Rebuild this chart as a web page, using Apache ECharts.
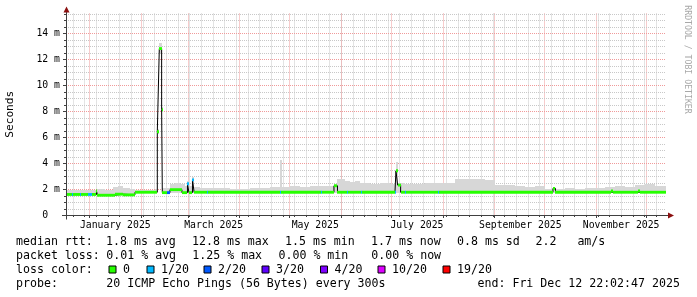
<!DOCTYPE html>
<html><head><meta charset="utf-8">
<script src="https://cdn.jsdelivr.net/npm/echarts@6/dist/echarts.min.js"></script>
<style>html,body{margin:0;padding:0;background:#fff}#c{width:697px;height:297px}</style>
</head><body><div id="c"></div>
<script>
// ---------- DATA (x = days relative to 2025-01-01 00:00, y = milliseconds) ----------
const xStart = -14.08, xEnd = 345.92;          // graph span, ends Fri Dec 12 22:02:47 2025
const monthLabels   = ['January 2025','March 2025','May 2025','July 2025','September 2025','November 2025'];
const monthLabelDays = [15.5, 74.5, 135.5, 196.5, 258.5, 319];
const monthStartDays = [0,31,59,90,120,151,181,212,243,273,304,334];
const yTickValues = [0,2,4,6,8,10,12,14];
const yTickLabels = ['0  ','2 m','4 m','6 m','8 m','10 m','12 m','14 m'];

// median RTT (step segments: value holds from day until next day), loss count per segment
const medDays = [-14.1,-10.5,-10.0,-5.7,-5.1,-0.9,1.5,4.2,4.8,15.3,20.1,27.3,40.7,41.9,43.3,43.7,46.8,48.3,55.5,58.8,59.7,61.8,62.8,70.5,71.1,114.3,114.9,138.9,139.5,146.7,148.8,154.5,155.1,162.9,163.5,183.3,183.9,184.9,186.7,189.3,189.9,209.1,209.7,278.1,279.6,313.2,314.1,329.1,330.3];
const medVals = [1.58,1.58,1.58,1.58,1.58,1.58,1.58,1.85,1.52,1.60,1.55,1.75,6.4,12.8,8.1,1.72,1.72,1.95,1.72,2.4,1.72,2.7,1.75,1.75,1.75,1.75,1.75,1.75,1.75,2.25,1.75,1.75,1.75,1.75,1.75,1.75,3.4,2.3,1.75,1.75,1.75,1.75,1.75,2.05,1.75,1.85,1.75,1.85,1.75];
const medLoss = [0,1,0,1,0,1,0,0,0,0,0,0,0,0,0,0,2,0,0,1,0,1,0,1,0,1,0,1,0,0,0,1,0,1,0,1,0,0,0,1,0,1,0,0,0,0,0,0,0];

// smoke (ping spread) lower / upper bound, step segments
const smokeDays = [-14.1,-8.7,-2.7,0.3,4.5,9.3,14.1,17.1,20.1,24.3,27.3,33.3,39.3,40.7,41.9,43.3,43.7,48.3,51.3,54.3,57.3,58.8,59.7,61.8,62.8,66.3,72.3,78.3,84.3,90.3,96.3,102.3,108.3,114.5,115.3,120.3,126.3,132.3,138.3,144.3,146.7,148.8,153.3,156.3,159.3,162.3,168.3,174.3,180.3,183.9,184.9,189.3,195.3,201.3,207.3,213.3,219.3,225.3,231.3,237.3,243.3,249.3,255.3,261.3,267.3,273.3,279.3,285.3,291.3,297.3,303.3,309.3,315.3,321.3,327.3,333.3,339.3];
const smokeHi = [1.95,1.95,1.92,1.95,2.0,1.95,2.15,2.2,2.05,2.0,1.95,1.95,1.97,6.6,13.2,8.3,2.05,2.35,2.5,2.4,2.2,2.6,2.2,2.9,2.15,2.1,2.1,2.05,2.0,2.0,2.05,2.1,2.15,4.2,2.15,2.2,2.15,2.2,2.2,2.2,2.35,2.75,2.65,2.55,2.6,2.45,2.4,2.45,2.4,4.1,2.5,2.4,2.4,2.45,2.45,2.5,2.75,2.75,2.8,2.7,2.3,2.3,2.2,2.15,2.2,2.0,2.0,2.05,2.0,2.1,2.05,2.15,2.2,2.15,2.3,2.35,2.25];
const smokeLo = [1.55,1.55,1.55,1.55,1.52,1.5,1.55,1.58,1.55,1.55,1.72,1.72,1.72,6.2,12.5,7.9,1.7,1.7,1.7,1.7,1.7,1.7,1.7,1.7,1.7,1.7,1.7,1.7,1.7,1.7,1.7,1.7,1.7,1.7,1.7,1.7,1.7,1.7,1.7,1.7,1.7,1.7,1.7,1.7,1.7,1.7,1.7,1.7,1.7,1.7,1.7,1.7,1.7,1.7,1.7,1.7,1.7,1.7,1.7,1.7,1.7,1.7,1.7,1.7,1.7,1.7,1.7,1.7,1.7,1.7,1.7,1.7,1.7,1.7,1.7,1.7,1.7];

// loss colour legend
const lossLevels = [0,1,2,3,4,10,19];
const lossNames  = ['0','1/20','2/20','3/20','4/20','10/20','19/20'];
const lossColors = ['#26ff00','#00b8ff','#0059ff','#5e00ff','#7e00ff','#dd00ff','#ff0000'];

// legend text
const rowTitles = ['median rtt:','packet loss:','loss color:','probe:'];
const rttItems  = ['1.8 ms avg','12.8 ms max','1.5 ms min','1.7 ms now','0.8 ms sd','2.2   am/s'];
const lossItems = ['0.01 % avg','1.25 % max','0.00 % min','0.00 % now'];
const probeText = '20 ICMP Echo Pings (56 Bytes) every 300s';
const endText   = 'end: Fri Dec 12 22:02:47 2025';
const watermark = 'RRDTOOL / TOBI OETIKER';

// ---------- LAYOUT ----------
const G = {left:66, top:13.5, width:600, height:201.5};
const yMax = 15.5;
const MONO = '"DejaVu Sans Mono", monospace';
const rowY = [241.5, 255.5, 269.5, 283.5];
const rttX = [106, 192, 285, 371, 457, 535.5];
const lossX = [106.3, 192.3, 278.5, 371.3];
const boxX = [108.5, 146.5, 203.5, 261.5, 320, 377.5, 442.5];
const medHalf = 0.11;
const MINOR = '#c8c8c8', MAJOR = '#f09a9a', AXIS = '#404040', ARROW = '#8b1010', SMOKE = '#d7d7d7';

// grid line items: [orientation 0=vertical 1=horizontal, value, major]
const gridItems = [];
for (let d = -10; d < xEnd; d += 7) gridItems.push([0, d, 0]);
monthStartDays.forEach(d => gridItems.push([0, d, 1]));
for (let v = 0.5; v <= yMax + 1e-9; v += 0.5) gridItems.push([1, v, (Math.abs(v % 2) < 1e-9) ? 1 : 0]);

const medSeg = medDays.map((d, i) => [d, i + 1 < medDays.length ? medDays[i + 1] : xEnd, medVals[i], medLoss[i]]);
const medLine = medDays.map((d, i) => [d, medVals[i]]).concat([[xEnd, medVals[medVals.length - 1]]]);
const smokeSeg = smokeDays.map((d, i) => [d, i + 1 < smokeDays.length ? smokeDays[i + 1] : xEnd, smokeLo[i], smokeHi[i]]);

const chart = echarts.init(document.getElementById('c'), null, {renderer: 'canvas', width: 697, height: 297});

const graphics = [];
rowTitles.forEach((t, i) => graphics.push({type: 'text', x: 16, y: rowY[i], style: {text: t, font: '11.6px ' + MONO, fill: '#000', verticalAlign: 'middle'}}));
rttItems.forEach((t, i) => graphics.push({type: 'text', x: rttX[i], y: rowY[0], style: {text: t, font: '11.6px ' + MONO, fill: '#000', verticalAlign: 'middle'}}));
lossItems.forEach((t, i) => graphics.push({type: 'text', x: lossX[i], y: rowY[1], style: {text: t, font: '11.6px ' + MONO, fill: '#000', verticalAlign: 'middle'}}));
lossNames.forEach((t, i) => {
  graphics.push({type: 'rect', shape: {x: boxX[i] + 0.5, y: rowY[2] - 3.5, width: 7, height: 7}, style: {fill: lossColors[i], stroke: '#000', lineWidth: 1}});
  graphics.push({type: 'text', x: boxX[i] + 14.5, y: rowY[2], style: {text: t, font: '11.6px ' + MONO, fill: '#000', verticalAlign: 'middle'}});
});
graphics.push({type: 'text', x: 106.3, y: rowY[3], style: {text: probeText, font: '11.6px ' + MONO, fill: '#000', verticalAlign: 'middle'}});
graphics.push({type: 'text', x: 477.5, y: rowY[3], style: {text: endText, font: '11.6px ' + MONO, fill: '#000', verticalAlign: 'middle'}});
graphics.push({type: 'text', x: 687.5, y: 59.5, rotation: -Math.PI / 2, style: {text: watermark, font: '8.2px ' + MONO, fill: '#a8a8a8', align: 'center', verticalAlign: 'middle'}});
const x0 = G.left + 0.5, yb = G.top + G.height + 0.5;
graphics.push({type: 'line', shape: {x1: G.left - 4, y1: yb, x2: G.left + G.width + 5, y2: yb}, style: {stroke: AXIS, lineWidth: 1}, z: 50});
graphics.push({type: 'line', shape: {x1: x0, y1: yb + 4, x2: x0, y2: G.top - 3}, style: {stroke: AXIS, lineWidth: 1}, z: 50});
graphics.push({type: 'polygon', shape: {points: [[G.left + G.width + 2, yb - 3], [G.left + G.width + 8, yb], [G.left + G.width + 2, yb + 3]]}, style: {fill: ARROW}, z: 51});
graphics.push({type: 'polygon', shape: {points: [[x0 - 3, G.top - 1], [x0, G.top - 7], [x0 + 3, G.top - 1]]}, style: {fill: ARROW}, z: 51});

chart.setOption({
  animation: false,
  backgroundColor: '#fff',
  grid: {left: G.left, top: G.top, width: G.width, height: G.height, containLabel: false, outerBoundsMode: 'none'},
  xAxis: {
    type: 'value', min: xStart, max: xEnd,
    axisLine: {show: false}, axisTick: {show: false}, splitLine: {show: false},
    axisLabel: {
      customValues: monthLabelDays,
      formatter: v => { const i = monthLabelDays.findIndex(d => Math.abs(d - v) < 1e-6); return i >= 0 ? monthLabels[i] : ''; },
      fontFamily: MONO, fontSize: 9.8, color: '#000', margin: 5
    }
  },
  yAxis: {
    type: 'value', min: 0, max: yMax, interval: 2,
    name: 'Seconds', nameLocation: 'middle', nameGap: 50, nameRotate: 90,
    nameTextStyle: {fontFamily: MONO, fontSize: 11.2, color: '#000'},
    axisLine: {show: false}, axisTick: {show: false}, splitLine: {show: false},
    axisLabel: {
      showMaxLabel: false,
      formatter: v => { const i = yTickValues.indexOf(v); return i >= 0 ? yTickLabels[i] : ''; },
      fontFamily: MONO, fontSize: 9.8, color: '#000', margin: 6
    }
  },
  series: [
    {
      type: 'custom', name: 'grid', silent: true, z: 0, clip: false,
      data: gridItems,
      renderItem: (params, api) => {
        const o = api.value(0), v = api.value(1), major = api.value(2);
        const cs = params.coordSys;
        const col = major ? MAJOR : MINOR;
        if (o === 0) {
          const p = api.coord([v, 0]);
          const x = Math.round(p[0]) + 0.5;
          return {type: 'group', children: [
            {type: 'line', shape: {x1: x, y1: cs.y, x2: x, y2: cs.y + cs.height}, style: {stroke: col, lineWidth: 1, lineDash: [1, 1]}},
            {type: 'line', shape: {x1: x, y1: cs.y + cs.height, x2: x, y2: cs.y + cs.height + (major ? 3 : 2)}, style: {stroke: AXIS, lineWidth: 1}}
          ]};
        } else {
          const p = api.coord([xStart, v]);
          const y = Math.round(p[1]) + 0.5;
          return {type: 'group', children: [
            {type: 'line', shape: {x1: cs.x, y1: y, x2: cs.x + cs.width, y2: y}, style: {stroke: col, lineWidth: 1, lineDash: [1, 1]}},
            {type: 'line', shape: {x1: cs.x - (major ? 3 : 2), y1: y, x2: cs.x, y2: y}, style: {stroke: AXIS, lineWidth: 1}}
          ]};
        }
      }
    },
    {
      type: 'custom', name: 'smoke', silent: true, z: 1,
      data: smokeSeg,
      encode: {x: [0, 1], y: [2, 3]},
      renderItem: (params, api) => {
        const a = api.value(0), b = api.value(1), lo = api.value(2), hi = api.value(3);
        const p0 = api.coord([a, hi]), p1 = api.coord([b, lo]);
        const xa = Math.round(p0[0]), xb = Math.round(p1[0]);
        return {type: 'rect', shape: {x: xa, y: Math.round(p0[1]), width: Math.max(1, xb - xa), height: Math.round(p1[1]) - Math.round(p0[1])},
                style: {fill: SMOKE}};
      }
    },
    {type: 'line', name: 'median', step: 'end', data: medLine, symbol: 'none', silent: true, z: 2,
     lineStyle: {color: '#000', width: 1}},
    {
      type: 'custom', name: 'medianLoss', silent: true, z: 3,
      data: medSeg,
      encode: {x: [0, 1], y: 2},
      renderItem: (params, api) => {
        const a = api.value(0), b = api.value(1), v = api.value(2), loss = api.value(3);
        const p0 = api.coord([a, v + medHalf]), p1 = api.coord([b, v - medHalf]);
        const xa = Math.round(p0[0]), xb = Math.round(p1[0]);
        const ci = lossLevels.indexOf(loss);
        return {type: 'rect', shape: {x: xa, y: p0[1], width: Math.max(1, xb - xa), height: p1[1] - p0[1]},
                style: {fill: lossColors[ci >= 0 ? ci : 0]}};
      }
    }
  ],
  graphic: graphics
});
</script>
</body></html>
